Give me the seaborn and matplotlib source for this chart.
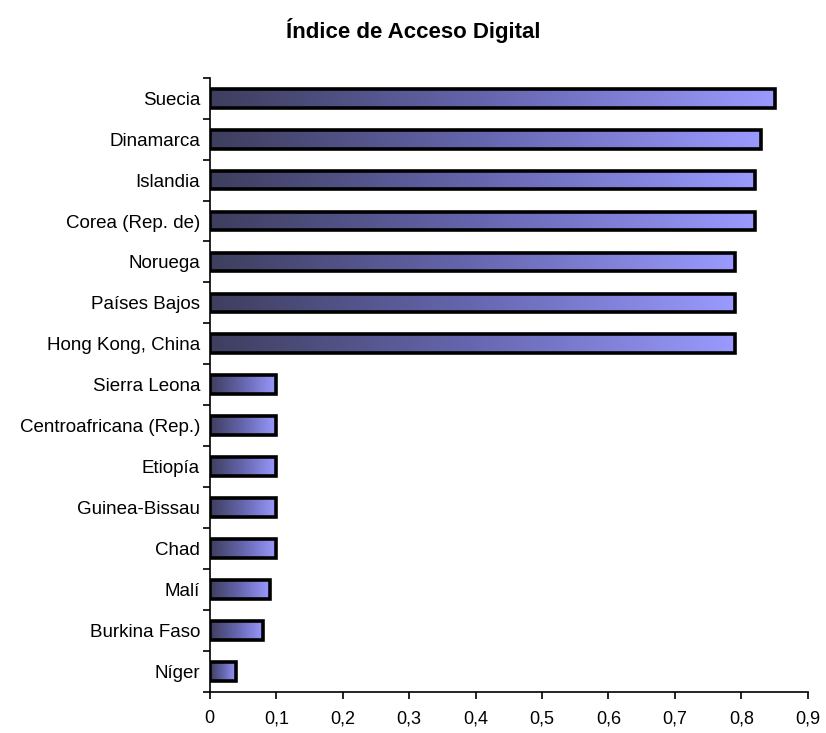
import numpy as np
import pandas as pd
import seaborn as sns
import matplotlib.pyplot as plt
from matplotlib.ticker import FuncFormatter, FixedLocator
from matplotlib.colors import LinearSegmentedColormap

paises = ["Suecia", "Dinamarca", "Islandia", "Corea (Rep. de)", "Noruega",
          "Países Bajos", "Hong Kong, China", "Sierra Leona",
          "Centroafricana (Rep.)", "Etiopía", "Guinea-Bissau", "Chad",
          "Malí", "Burkina Faso", "Níger"]
valores = [0.85, 0.83, 0.82, 0.82, 0.79, 0.79, 0.79, 0.10,
           0.10, 0.10, 0.10, 0.10, 0.09, 0.08, 0.04]

df = pd.DataFrame({"pais": paises, "valor": valores})

sns.set_style("ticks")
plt.rcParams['font.family'] = ['Liberation Sans', 'DejaVu Sans']
plt.rcParams['text.color'] = 'black'
plt.rcParams['xtick.color'] = 'black'
plt.rcParams['ytick.color'] = 'black'

fig, ax = plt.subplots(figsize=(8.26, 7.33), dpi=100)
fig.subplots_adjust(left=0.254, right=0.978, top=0.894, bottom=0.056)

sns.barplot(data=df, x="valor", y="pais", orient="h", color="#9999ff",
            width=0.46, edgecolor="black", linewidth=2.6, ax=ax)

# degradado horizontal dentro de cada barra
cmap = LinearSegmentedColormap.from_list("grad", ["#3e3e5e", "#6666b0", "#9a9aff"])
grad = np.linspace(0, 1, 256).reshape(1, -1)
for p in ax.patches:
    x0, y0 = p.get_x(), p.get_y()
    w, h = p.get_width(), p.get_height()
    im = ax.imshow(grad, cmap=cmap, aspect="auto",
                   extent=[x0, x0 + w, y0 + h, y0], zorder=p.get_zorder() - 0.1)
    im.set_clip_path(p)
    p.set_facecolor("none")

ax.set_xlim(0, 0.9)
ax.set_ylim(len(paises) - 0.5, -0.5)
ax.set_xticks(np.arange(0, 0.91, 0.1))
ax.xaxis.set_major_formatter(FuncFormatter(
    lambda v, pos: "0" if abs(v) < 1e-9 else f"{v:.1f}".replace(".", ",")))

ax.yaxis.set_minor_locator(FixedLocator(np.arange(-0.5, len(paises), 1)))
ax.tick_params(axis="y", which="major", length=0, pad=7, labelsize=13.5)
ax.tick_params(axis="y", which="minor", length=5, width=1.2, color="black")
ax.tick_params(axis="x", length=5, width=1.2, color="black", labelsize=13, pad=8)

ax.set_xlabel("")
ax.set_ylabel("")
for s in ["top", "right"]:
    ax.spines[s].set_visible(False)
for s in ["left", "bottom"]:
    ax.spines[s].set_linewidth(1.2)
    ax.spines[s].set_color("black")

fig.suptitle("Índice de Acceso Digital", y=0.975, fontsize=16, fontweight="bold")

fig.savefig("out.png", dpi=100)
